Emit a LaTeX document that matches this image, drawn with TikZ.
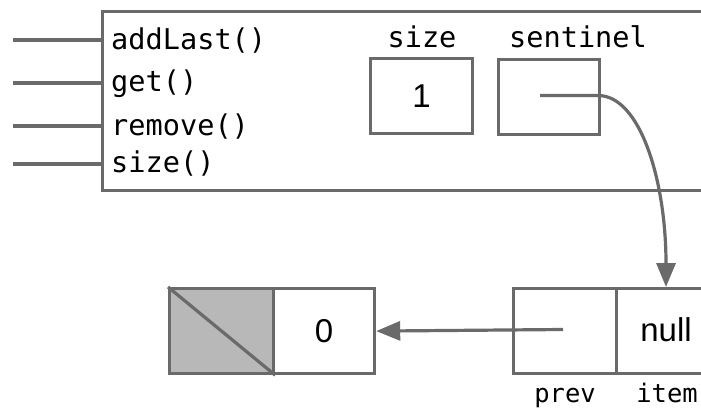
\documentclass[tikz,border=0pt]{standalone}
\usepackage{fontspec}
\setmainfont{Liberation Sans}
\setmonofont{DejaVu Sans Mono}
\usetikzlibrary{arrows.meta}
\definecolor{edge}{HTML}{6A6A6A}
\definecolor{shade}{HTML}{B8B8B8}
\begin{document}
\begin{tikzpicture}[x=1pt,y=-1pt,
  line/.style={draw=edge,line width=3.2pt},
  cell/.style={line, rectangle, inner sep=0pt, anchor=north west},
  meth/.style={font=\fontsize{28.6}{30}\ttfamily, anchor=base west, inner sep=0pt},
  lbl/.style={font=\fontsize{28.6}{30}\ttfamily, anchor=base, inner sep=0pt},
  small/.style={font=\fontsize{25.5}{27}\ttfamily, anchor=base, inner sep=0pt},
  val/.style={font=\fontsize{33}{35}\selectfont, inner sep=0pt},
  tip/.style={-{Triangle[length=24pt,width=19pt]}}]
\path[use as bounding box, clip] (0,0) rectangle (701,412);
\fill[white] (0,0) rectangle (701,412);
% outer box
\node[cell, minimum width=650pt, minimum height=179pt] (obj) at (101,10) {};
% methods
\node[meth] (m1) at (111,50) {addLast()};
\node[meth] (m2) at (111,92) {get()};
\node[meth] (m3) at (111,135) {remove()};
\node[meth] (m4) at (111,172) {size()};
\coordinate (c1) at (13,40);
\coordinate (c2) at (13,83);
\coordinate (c3) at (13,126);
\coordinate (c4) at (13,164);
\foreach \i in {1,2,3,4} \draw[line] (c\i) -- (c\i -| obj.west);
% fields
\node[lbl] (sizelbl) at (422,48) {size};
\node[lbl] (sentlbl) at (578,48) {sentinel};
\node[cell, minimum width=102pt, minimum height=75pt] (sizebox) at (369,57) {};
\node[val] (one) at (sizebox.center) {1};
\node[cell, minimum width=101pt, minimum height=75pt] (sentbox) at (497,58) {};
\coordinate (sentstart) at (540,95.5);
% bottom left node
\node[cell, fill=shade, minimum width=104pt, minimum height=85pt] (lprev) at (168,287) {};
\draw[line] (lprev.north west) -- (lprev.south east);
\node[cell, fill=white, minimum width=101pt, minimum height=85pt] (litem) at (272,287) {};
\node[val] (zero) at (litem.center) {0};
% bottom right node
\node[cell, minimum width=103pt, minimum height=85pt] (rprev) at (512,287) {};
\node[cell, minimum width=103pt, minimum height=85pt] (ritem) at (615,287) {};
\node[val] (nul) at (666,330) {null};
\coordinate (prevstart) at (563,329.5);
\node[small] (prevlbl) at (565,402) {prev};
\node[small] (itemlbl) at (667,402) {item};
% arrows
\draw[line, tip] (sentstart) -- (598,95.5) .. controls (640,95.5) and (666,180) .. (ritem.north west -| nul);
\draw[line, tip] (prevstart) -- (litem.east);
\end{tikzpicture}
\end{document}
